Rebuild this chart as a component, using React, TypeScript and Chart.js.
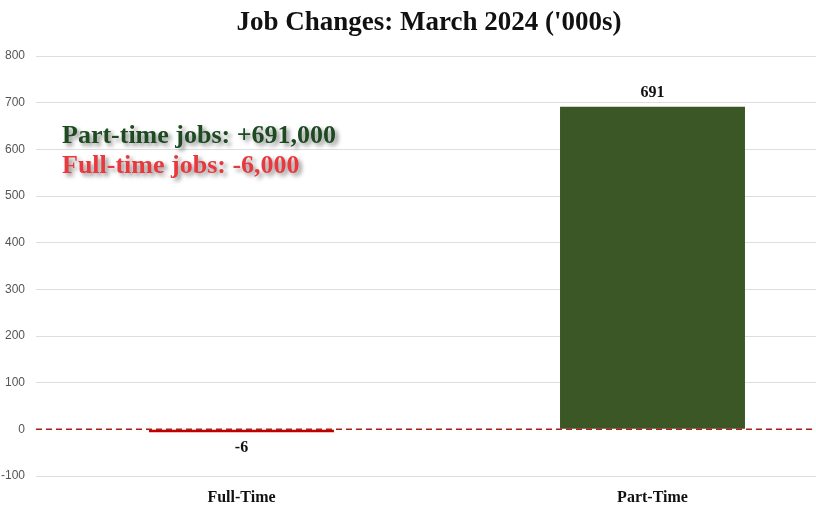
import React, { useEffect, useRef } from "react";
import { Chart, registerables } from "chart.js";

Chart.register(...registerables);

const categories = ["Full-Time", "Part-Time"];
const jobChanges = [-6, 691];
const barColors = ["#c00000", "#3b5726"];
const yMin = -100;
const yMax = 800;
const yStep = 100;
const titleText = "Job Changes: March 2024 ('000s)";
const noteLines = ["Part-time jobs: +691,000", "Full-time jobs: -6,000"];
const noteColors = ["#1e4a22", "#e8393e"];

const SERIF = "'Liberation Serif', 'DejaVu Serif', serif";

const overlayPlugin = {
  id: "overlay",
  afterDatasetsDraw(chart: any) {
    const { ctx, chartArea } = chart;
    const y = chart.scales.y;
    const y0 = y.getPixelForValue(0);
    ctx.save();
    ctx.strokeStyle = "#a8201a";
    ctx.lineWidth = 1.5;
    ctx.setLineDash([6, 4]);
    ctx.beginPath();
    ctx.moveTo(chartArea.left, y0);
    ctx.lineTo(chartArea.right, y0);
    ctx.stroke();
    ctx.setLineDash([]);
    ctx.font = `bold 16px ${SERIF}`;
    ctx.fillStyle = "#111";
    ctx.textAlign = "center";
    ctx.textBaseline = "middle";
    const meta = chart.getDatasetMeta(0);
    jobChanges.forEach((v, i) => {
      const bar = meta.data[i];
      const px = bar.x;
      if (v >= 0) {
        ctx.fillText(String(v), px, y.getPixelForValue(v) - 14);
      } else {
        ctx.fillText(String(v), px, y.getPixelForValue(v) + 16);
      }
    });
    ctx.textAlign = "left";
    ctx.font = `bold 26px ${SERIF}`;
    noteLines.forEach((t, i) => {
      ctx.save();
      ctx.shadowColor = "rgba(0,0,0,0.45)";
      ctx.shadowBlur = 4;
      ctx.shadowOffsetX = 3;
      ctx.shadowOffsetY = 3;
      ctx.fillStyle = noteColors[i];
      ctx.fillText(t, 62, 136 + i * 30);
      ctx.restore();
    });
    ctx.restore();
  },
};

export default function App() {
  const ref = useRef<HTMLCanvasElement>(null);
  useEffect(() => {
    if (!ref.current) return;
    const chart = new Chart(ref.current, {
      type: "bar",
      data: {
        labels: categories,
        datasets: [
          {
            data: jobChanges,
            backgroundColor: barColors,
            borderWidth: 0,
            barPercentage: 0.45,
            categoryPercentage: 1,
          },
        ],
      },
      options: {
        responsive: false,
        animation: false,
        layout: { padding: { top: 0, right: 2, bottom: 10, left: 0 } },
        plugins: {
          legend: { display: false },
          tooltip: { enabled: false },
          title: {
            display: true,
            text: titleText,
            color: "#111",
            font: { family: SERIF, size: 27, weight: "bold", lineHeight: 1.2 },
            padding: { top: 7, bottom: 16.6 },
          },
        },
        scales: {
          x: {
            grid: { display: false, drawTicks: false },
            border: { display: false },
            afterFit(scale: any) {
              scale.height = 31;
            },
            ticks: {
              color: "#111",
              font: { family: SERIF, size: 16, weight: "bold" },
              padding: 12,
            },
          },
          y: {
            min: yMin,
            max: yMax,
            afterFit(scale: any) {
              scale.width = 36;
            },
            ticks: {
              stepSize: yStep,
              color: "#555",
              padding: 11,
              font: { family: "'Liberation Sans Narrow', 'Liberation Sans', sans-serif", size: 12 },
            },
            grid: {
              drawTicks: false,
              color: (c: any) => (c.tick && c.tick.value === 0 ? "rgba(0,0,0,0)" : "#dedede"),
              lineWidth: 1,
            },
            border: { display: false },
          },
        },
      },
      plugins: [overlayPlugin],
    });
    return () => chart.destroy();
  }, []);
  return (
    <div style={{ position: "fixed", left: 0, top: 0, width: 816, height: 517, overflow: "hidden", background: "#fff" }}>
      <canvas ref={ref} width={860} height={517} style={{ display: "block" }} />
    </div>
  );
}
